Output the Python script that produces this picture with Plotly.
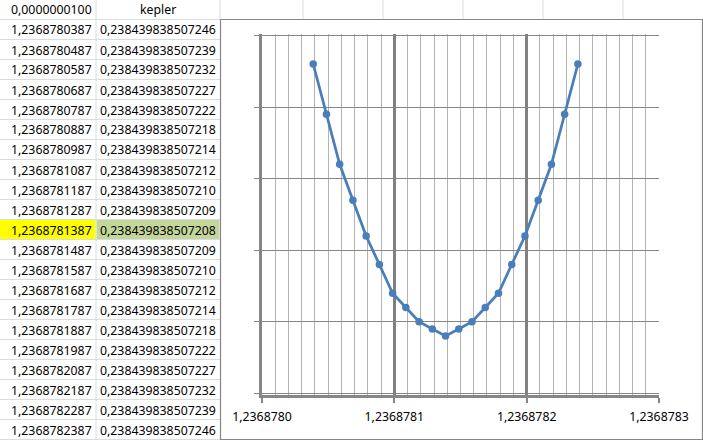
import plotly.graph_objects as go

# ---- data ----
step = 0.00000001
header_b = "kepler"
x_vals = [1.2368780387, 1.2368780487, 1.2368780587, 1.2368780687, 1.2368780787,
          1.2368780887, 1.2368780987, 1.2368781087, 1.2368781187, 1.2368781287,
          1.2368781387, 1.2368781487, 1.2368781587, 1.2368781687, 1.2368781787,
          1.2368781887, 1.2368781987, 1.2368782087, 1.2368782187, 1.2368782287,
          1.2368782387]
y_vals = [0.238439838507246, 0.238439838507239, 0.238439838507232, 0.238439838507227,
          0.238439838507222, 0.238439838507218, 0.238439838507214, 0.238439838507212,
          0.238439838507210, 0.238439838507209, 0.238439838507208, 0.238439838507209,
          0.238439838507210, 0.238439838507212, 0.238439838507214, 0.238439838507218,
          0.238439838507222, 0.238439838507227, 0.238439838507232, 0.238439838507239,
          0.238439838507246]
highlight_index = 10
x_axis_min, x_axis_max, x_major, x_minor = 1.2368780, 1.2368783, 0.0000001, 0.00000001
y_axis_min, y_axis_max, y_major = 0.2384398385072, 0.23843983850725, 0.00000000000001

W, H = 703, 440
FONT = "Noto Sans"
GRID = "#dadcdd"
DARK = "#868686"


def px(x):
    return x / W


def py(y):
    return 1 - y / H


def fmt(v, d):
    return f"{v:.{d}f}".replace(".", ",")


fig = go.Figure()
fig.add_trace(go.Scatter(
    x=x_vals, y=y_vals, mode="lines+markers",
    line=dict(color="#4a7ebb", width=2.75),
    marker=dict(color="#4a7ebb", size=7.5),
    hoverinfo="skip", showlegend=False))

shapes = []
annotations = []

# highlighted cells
shapes.append(dict(type="rect", xref="paper", yref="paper", layer="below",
                   x0=px(0), x1=px(95.5), y0=py(19.5 + 20 * highlight_index), y1=py(19.5 + 20 * (highlight_index + 1)),
                   fillcolor="#ffff00", line=dict(width=0)))
shapes.append(dict(type="rect", xref="paper", yref="paper", layer="below",
                   x0=px(96.5), x1=px(219.5), y0=py(19.5 + 20 * highlight_index), y1=py(19.5 + 20 * (highlight_index + 1)),
                   fillcolor="#c4d79b", line=dict(width=0)))

# spreadsheet grid lines (table area)
n_rows = len(x_vals) + 1
for k in range(n_rows + 1):
    yy = 19.5 + 20 * k
    shapes.append(dict(type="line", xref="paper", yref="paper", layer="below",
                       x0=px(0), x1=px(220), y0=py(yy), y1=py(yy),
                       line=dict(color=GRID, width=1)))
shapes.append(dict(type="line", xref="paper", yref="paper", layer="below",
                   x0=px(96), x1=px(96), y0=py(0), y1=py(440), line=dict(color=GRID, width=1)))
# columns above chart
for xx in [220, 303, 383, 463, 543, 623]:
    shapes.append(dict(type="line", xref="paper", yref="paper", layer="below",
                       x0=px(xx), x1=px(xx), y0=py(0), y1=py(19.5), line=dict(color=GRID, width=1)))

# chart area
shapes.append(dict(type="rect", xref="paper", yref="paper", layer="below",
                   x0=px(220.5), x1=px(702.5), y0=py(19.5), y1=py(439.5),
                   fillcolor="white", line=dict(color=DARK, width=1.2)))

# table text
def cell(text, x, y, anchor):
    annotations.append(dict(text=text, xref="paper", yref="paper", x=px(x), y=py(y),
                            xanchor=anchor, yanchor="middle", showarrow=False,
                            font=dict(family=FONT, size=12.3, color="black")))

cell(fmt(step, 10), 94, 10, "right")
cell(header_b, 158, 10, "center")
for i, (xv, yv) in enumerate(zip(x_vals, y_vals)):
    cy = 30 + 20 * i
    cell(fmt(xv, 10), 94, cy, "right")
    cell(fmt(yv, 15), 218, cy, "right")

fig.update_layout(
    width=W, height=H, margin=dict(l=0, r=0, t=0, b=0, autoexpand=False),
    paper_bgcolor="white", plot_bgcolor="white",
    separators=",.",
    shapes=shapes, annotations=annotations,
    xaxis=dict(domain=[px(262), px(659)],
               range=[x_axis_min - 1e-15, x_axis_max + 1e-15],
               tick0=x_axis_min, dtick=x_major, tickformat=".7f",
               showgrid=True, gridcolor="#808080", gridwidth=3,
               minor=dict(dtick=x_minor, tick0=x_axis_min, showgrid=True, gridcolor="#b3b3b3", gridwidth=1),
               ticks="outside", ticklen=5, tickwidth=1.5, tickcolor=DARK,
               showline=True, linecolor=DARK, linewidth=2.5,
               zeroline=False, ticklabelstandoff=3, automargin=False,
               tickfont=dict(family=FONT, size=12.3, color="black")),
    yaxis=dict(domain=[py(395), py(34)],
               range=[y_axis_min - 2e-16, y_axis_max + 2e-16],
               tick0=y_axis_min, dtick=y_major,
               showgrid=True, gridcolor=DARK, gridwidth=1.3,
               showticklabels=False, automargin=False,
               ticks="outside", ticklen=5, tickwidth=1.3, tickcolor=DARK,
               showline=True, linecolor=DARK, linewidth=3, zeroline=False),
)

fig.write_html("out.html", config={"displayModeBar": False},
               post_script="document.body.style.margin='0';")
